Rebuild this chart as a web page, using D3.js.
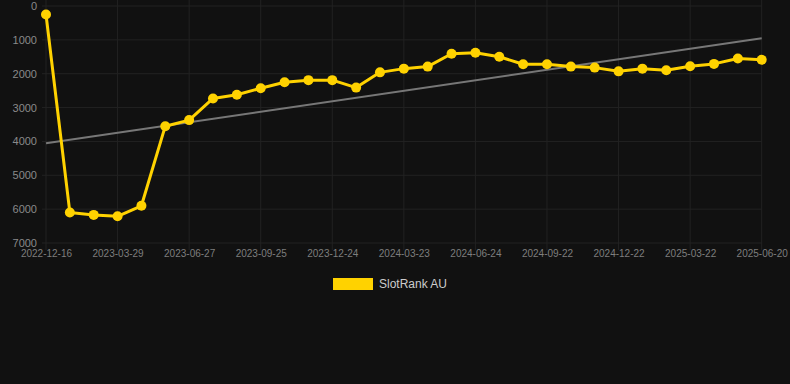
<!DOCTYPE html>
<html>
<head>
<meta charset="utf-8">
<script src="https://cdn.jsdelivr.net/npm/d3@7"></script>
<style>
html,body{margin:0;padding:0;background:#111111;}
svg{display:block;}
text{font-family:"Liberation Sans",Arial,Helvetica,sans-serif;}
</style>
</head>
<body>
<svg id="chart" width="790" height="384"></svg>
<script>
// Categories (dates); only every third is labelled on the axis
const dates = [
  "2022-12-16","2023-01-20","2023-02-24","2023-03-29","2023-04-28","2023-05-28",
  "2023-06-27","2023-07-27","2023-08-26","2023-09-25","2023-10-25","2023-11-24",
  "2023-12-24","2024-01-23","2024-02-22","2024-03-23","2024-04-24","2024-05-24",
  "2024-06-24","2024-07-24","2024-08-23","2024-09-22","2024-10-22","2024-11-22",
  "2024-12-22","2025-01-21","2025-02-20","2025-03-22","2025-04-21","2025-05-21",
  "2025-06-20"
];
const tickLabels = [
  "2022-12-16","2023-03-29","2023-06-27","2023-09-25","2023-12-24","2024-03-23",
  "2024-06-24","2024-09-22","2024-12-22","2025-03-22","2025-06-20"
];
const rankAU = [
  250, 6100, 6170, 6210, 5900, 3550, 3370, 2730, 2620, 2430, 2250, 2190,
  2190, 2410, 1960, 1850, 1790, 1410, 1380, 1500, 1720, 1720, 1790, 1820,
  1930, 1850, 1900, 1780, 1710, 1550, 1590
];
const yTicks = [0, 1000, 2000, 3000, 4000, 5000, 6000, 7000];
const seriesName = "SlotRank AU";

const svg = d3.select("#chart");
const margin = {left: 46, right: 28, top: 6, bottom: 141};

const x = d3.scalePoint().domain(dates).range([margin.left, 761.7]);
const y = d3.scaleLinear().domain([0, 7000]).range([margin.top, 243]);

const gridColor = "#222222";
const textColor = "#8a8a8a";

// horizontal grid
svg.append("g").selectAll("line").data(yTicks).join("line")
  .attr("x1", 42).attr("x2", 761.7)
  .attr("y1", d => y(d)).attr("y2", d => y(d))
  .attr("stroke", gridColor).attr("stroke-width", 1);

// vertical grid
svg.append("g").selectAll("line").data(tickLabels).join("line")
  .attr("x1", d => x(d)).attr("x2", d => x(d))
  .attr("y1", 0).attr("y2", 250)
  .attr("stroke", gridColor).attr("stroke-width", 1);

// y axis
const yAxis = d3.axisLeft(y).tickValues(yTicks).tickFormat(d3.format("d"))
  .tickSize(0).tickPadding(0);
const gy = svg.append("g").attr("transform", "translate(37,0)").call(yAxis);
gy.select(".domain").remove();
gy.selectAll("text").attr("fill", textColor).style("font-size", "11px")
  .style("font-family", '"Liberation Sans",Arial,sans-serif');

// x axis
const xAxis = d3.axisBottom(x).tickValues(tickLabels).tickSize(0).tickPadding(0);
const gx = svg.append("g").attr("transform", "translate(0,254)").call(xAxis);
gx.select(".domain").remove();
gx.selectAll("text").attr("fill", "#7e7e7e").style("font-size", "10px")
  .attr("dy", "0.3em")
  .style("font-family", '"Liberation Sans",Arial,sans-serif');

// trend line (least squares over index)
const n = rankAU.length;
const mx = d3.mean(rankAU, (d, i) => i);
const my = d3.mean(rankAU);
let sxy = 0, sxx = 0;
rankAU.forEach((v, i) => { sxy += (i - mx) * (v - my); sxx += (i - mx) * (i - mx); });
const slope = sxy / sxx, icpt = my - slope * mx;
const trend = [0, n - 1].map(i => ({d: dates[i], v: icpt + slope * i}));
svg.append("path").datum(trend)
  .attr("d", d3.line().x(p => x(p.d)).y(p => y(p.v)))
  .attr("fill", "none").attr("stroke", "#777777").attr("stroke-width", 2);

// series line
const pts = dates.map((d, i) => ({d, v: rankAU[i]}));
const yellow = "#FFD200";
svg.append("path").datum(pts)
  .attr("d", d3.line().x(p => x(p.d)).y(p => y(p.v)))
  .attr("fill", "none").attr("stroke", yellow).attr("stroke-width", 3)
  .attr("stroke-linejoin", "round");

svg.append("g").selectAll("circle").data(pts).join("circle")
  .attr("cx", p => x(p.d)).attr("cy", p => y(p.v)).attr("r", 5)
  .attr("fill", yellow);

// legend
const lg = svg.append("g");
lg.append("rect").attr("x", 333).attr("y", 278).attr("width", 40).attr("height", 12)
  .attr("fill", yellow);
lg.append("text").attr("x", 379).attr("y", 284).attr("dy", "0.35em")
  .attr("fill", "#cccccc").style("font-size", "12px").text(seriesName);
</script>
</body>
</html>
